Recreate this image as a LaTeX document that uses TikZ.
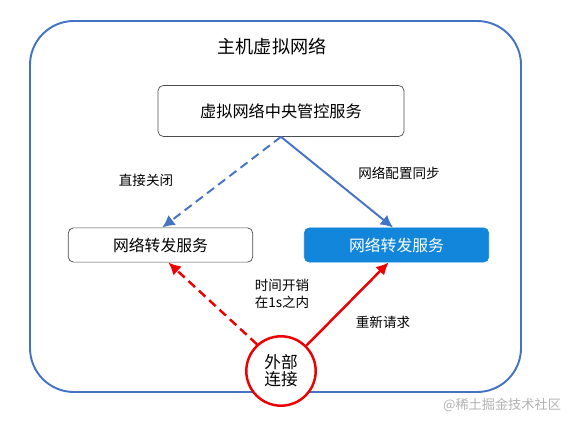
\documentclass[tikz,border=0pt]{standalone}
\usepackage{fontspec}
\setmainfont{Noto Sans CJK SC}
\usetikzlibrary{arrows.meta}

\definecolor{lineblue}{RGB}{68,114,196}
\definecolor{fillblue}{RGB}{18,134,219}
\definecolor{linered}{RGB}{236,0,0}

\tikzset{
    svcbox/.style={draw=black!70, rounded corners=3pt, minimum width=105pt, minimum height=19.5pt, font=\fontsize{9}{10}\selectfont},
    blueline/.style={draw=lineblue, line width=1.1pt, -{Latex[length=7pt,width=7pt]}},
    redline/.style={draw=linered, line width=1.4pt, -{Latex[length=7pt,width=7pt]}},
    lbl/.style={font=\fontsize{7.7}{10}\selectfont, align=center}
}

\begin{document}
\begin{tikzpicture}[x=0.02cm, y=-0.02cm]
    \useasboundingbox (0,0) rectangle (568,425);

    % host network frame
    \draw[lineblue, line width=1.1pt, rounded corners=25pt] (30,21) rectangle (521,392);
    \node (title) at (272,46.5) {\fontsize{10.3}{12}\selectfont 主机虚拟网络};

    \node[svcbox, minimum width=140pt, minimum height=29pt, font=\fontsize{9.2}{11}\selectfont] (ctrl) at (281,111) {虚拟网络中央管控服务};
    \node[svcbox] (fwdold) at (160.5,245) {网络转发服务};
    \node[svcbox, draw=fillblue, fill=fillblue, text=white] (fwdnew) at (396.5,245) {网络转发服务};

    \node[draw=linered, line width=1.4pt, circle, minimum size=39.5pt, inner sep=0pt, align=center,
          font=\fontsize{9.5}{9.8}\selectfont, fill=white] (ext) at (281,371) {外部\\连接};

    % control plane
    \draw[blueline, dashed, dash pattern=on 5pt off 3pt] (ctrl.south) -- ([xshift=1pt]fwdold.north);
    \draw[blueline] (ctrl.south) -- ([xshift=-2pt]fwdnew.north);

    % data plane
    \draw[redline, dashed, dash pattern=on 5pt off 3pt] (ext.132) -- ([xshift=4.5pt]fwdold.south);
    \draw[redline] (ext.45) -- ([xshift=-4.5pt]fwdnew.south);

    \node[lbl] (closelbl) at (146,180) {直接关闭};
    \node[lbl] (synclbl) at (399,173) {网络配置同步};
    \node[lbl] (costlbl) at (282,294) {时间开销\\在1s之内};
    \node[lbl] (retrylbl) at (383,322) {重新请求};

    \node[font=\fontsize{7.5}{8}\selectfont, text=black!30] (mark) at (502,405) {@稀土掘金技术社区};
\end{tikzpicture}
\end{document}
